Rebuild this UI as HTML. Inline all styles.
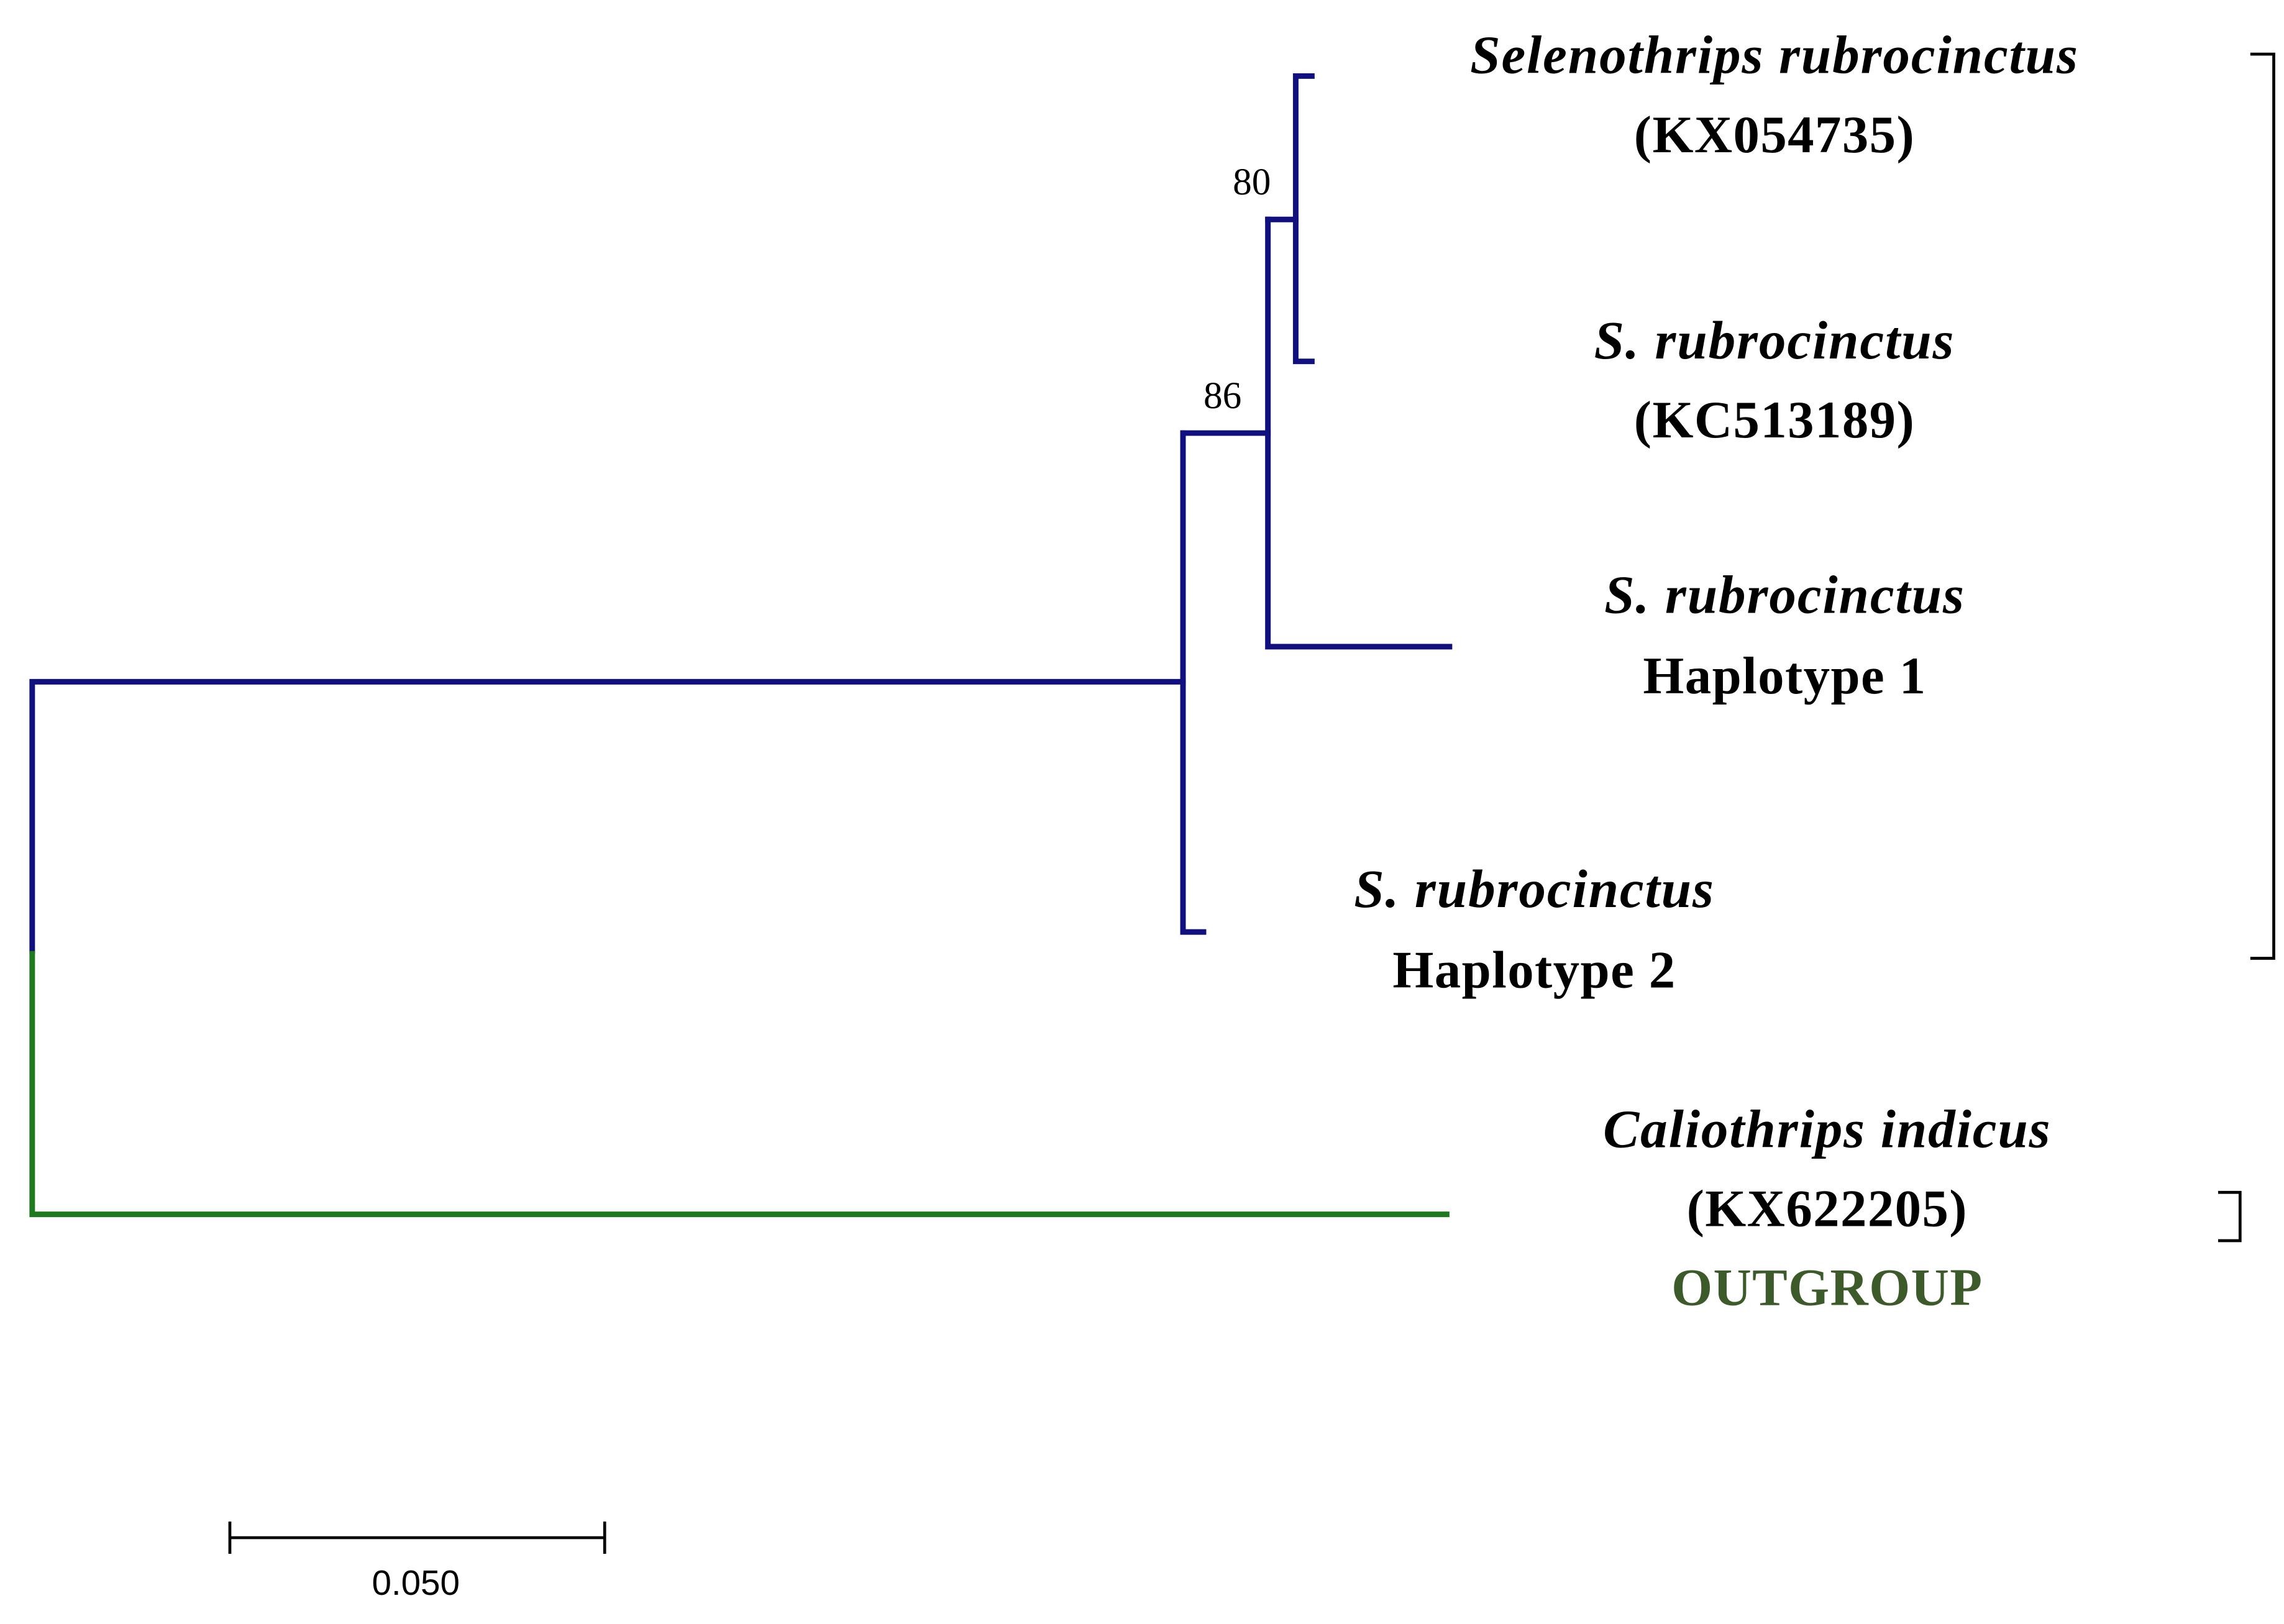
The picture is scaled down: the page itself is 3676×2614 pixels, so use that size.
<!DOCTYPE html>
<html><head><meta charset="utf-8"><style>
html,body{margin:0;padding:0;background:#fff;}
svg{display:block;}
</style></head><body>
<svg width="3676" height="2614" viewBox="0 0 1560 1110" preserveAspectRatio="none" xmlns="http://www.w3.org/2000/svg">
<rect width="1560" height="1110" fill="#fff"/>
<g fill="none" stroke="#10107f" stroke-width="3.8" stroke-linecap="square">
<polyline points="22,650 22,466 808,466"/>
<polyline points="808,296 808,637 822,637"/>
<polyline points="808,296 866,296"/>
<polyline points="866,150 866,442 990,442"/>
<polyline points="866,150 885,150"/>
<polyline points="896,52 885,52 885,247 896,247"/>
</g>
<polyline points="22,650 22,830 990,830" fill="none" stroke="#1e7a1e" stroke-width="3.8"/>
<g fill="none" stroke="#000" stroke-width="2">
<polyline points="1537,37 1553,37 1553,655 1537,655"/>
<polyline points="1515,815 1530,815 1530,848 1515,848"/>
<line x1="157" y1="1051" x2="413" y2="1051"/>
<line x1="157" y1="1040" x2="157" y2="1062"/>
<line x1="413" y1="1040" x2="413" y2="1062"/>
</g>
<g font-family="'Liberation Serif',serif" text-anchor="middle" fill="#000">
<text x="855" y="133" font-size="26">80</text>
<text x="835" y="279" font-size="26">86</text>
<g font-size="37" font-style="italic" font-weight="bold" letter-spacing="0.8">
<text x="1212" y="50">Selenothrips rubrocinctus</text>
<text x="1212" y="245">S. rubrocinctus</text>
<text x="1219" y="419">S. rubrocinctus</text>
<text x="1048" y="620">S. rubrocinctus</text>
<text x="1248" y="784">Caliothrips indicus</text>
</g>
<g font-size="36" font-weight="bold" letter-spacing="0.6">
<text x="1212" y="104">(KX054735)</text>
<text x="1212" y="299">(KC513189)</text>
<text x="1219" y="474">Haplotype 1</text>
<text x="1048" y="675">Haplotype 2</text>
<text x="1248" y="838">(KX622205)</text>
<text x="1248" y="892" fill="#3d5a2a">OUTGROUP</text>
</g>
</g>
<text x="284" y="1090" font-family="'Liberation Sans',sans-serif" font-size="24" text-anchor="middle">0.050</text>
</svg>
</body></html>
